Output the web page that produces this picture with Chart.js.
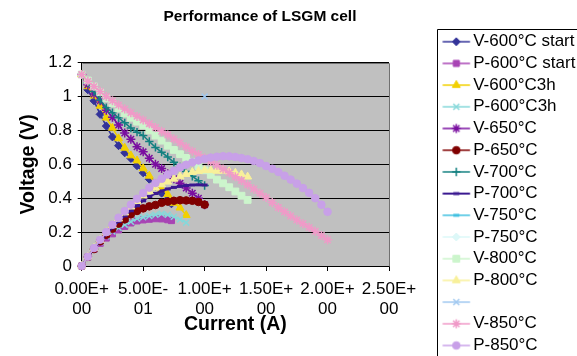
<!DOCTYPE html>
<html>
<head>
    <title>Performance of LSGM cell</title>
    <script src="https://cdn.jsdelivr.net/npm/chart.js"></script>
    <style>
        html, body {
            margin: 0;
            padding: 0;
            background: #ffffff;
            overflow: hidden;
        }
        .frame {
            position: relative;
            width: 577px;
            height: 380px;
        }
    </style>
</head>
<body>
    <div class="frame">
        <canvas id="lsgmChart"></canvas>
    </div>

    <script>
        // current (A), voltage (V) and power (W), one set per run
        const cur600start = [0, 0.05, 0.10, 0.15, 0.20, 0.25, 0.30, 0.35, 0.40, 0.45, 0.50, 0.55, 0.60, 0.65, 0.70, 0.73];
        const volt600start = [1.13, 1.04, 0.975, 0.895, 0.826, 0.762, 0.71, 0.668, 0.635, 0.592, 0.55, 0.512, 0.47, 0.43, 0.392, 0.367];
        const pow600start = [0, 0.052, 0.098, 0.134, 0.165, 0.19, 0.213, 0.234, 0.254, 0.266, 0.272, 0.276, 0.279, 0.278, 0.273, 0.268];

        const cur600h = [0, 0.05, 0.10, 0.15, 0.20, 0.25, 0.30, 0.35, 0.40, 0.45, 0.50, 0.55, 0.60, 0.65, 0.70, 0.75, 0.80, 0.85];
        const volt600h = [1.13, 1.06, 1.005, 0.945, 0.875, 0.815, 0.753, 0.697, 0.652, 0.622, 0.576, 0.532, 0.485, 0.455, 0.423, 0.372, 0.344, 0.30];
        const pow600h = [0, 0.053, 0.10, 0.142, 0.175, 0.204, 0.226, 0.244, 0.261, 0.28, 0.288, 0.295, 0.303, 0.308, 0.302, 0.29, 0.275, 0.256];

        const cur650 = [0, 0.05, 0.10, 0.15, 0.20, 0.25, 0.30, 0.35, 0.40, 0.45, 0.50, 0.55, 0.60, 0.65, 0.70, 0.75, 0.80, 0.85, 0.90, 0.95, 1.00];
        const volt650 = [1.13, 1.07, 1.015, 0.975, 0.92, 0.878, 0.832, 0.785, 0.748, 0.704, 0.674, 0.636, 0.60, 0.575, 0.545, 0.515, 0.488, 0.46, 0.43, 0.40, 0.362];
        const pow650 = [0, 0.054, 0.10, 0.146, 0.184, 0.22, 0.25, 0.275, 0.305, 0.325, 0.34, 0.352, 0.36, 0.373, 0.38, 0.385, 0.388, 0.387, 0.385, 0.378, 0.362];

        const cur700 = [0, 0.05, 0.10, 0.15, 0.20, 0.25, 0.30, 0.35, 0.40, 0.45, 0.50, 0.55, 0.60, 0.65, 0.70, 0.75, 0.80, 0.85, 0.90, 0.95, 1.00];
        const volt700 = [1.13, 1.08, 1.03, 0.98, 0.935, 0.905, 0.875, 0.845, 0.815, 0.79, 0.77, 0.735, 0.70, 0.672, 0.643, 0.612, 0.585, 0.558, 0.53, 0.503, 0.475];
        const pow700 = [0, 0.054, 0.103, 0.147, 0.187, 0.226, 0.263, 0.296, 0.326, 0.356, 0.385, 0.41, 0.428, 0.443, 0.455, 0.464, 0.47, 0.475, 0.478, 0.479, 0.478];

        // 750 °C is listed in the legend but has no visible points
        const cur750 = [];
        const volt750 = [];
        const pow750 = [];

        const cur800 = [0, 0.05, 0.10, 0.15, 0.20, 0.25, 0.30, 0.35, 0.40, 0.45, 0.50, 0.55, 0.60, 0.65, 0.70, 0.75, 0.80, 0.85, 0.90, 0.95, 1.00, 1.05, 1.10, 1.15, 1.20, 1.25, 1.30, 1.35];
        const volt800 = [1.13, 1.095, 1.06, 1.025, 0.99, 0.96, 0.93, 0.90, 0.875, 0.852, 0.83, 0.80, 0.77, 0.74, 0.71, 0.685, 0.66, 0.638, 0.615, 0.59, 0.565, 0.538, 0.51, 0.488, 0.465, 0.44, 0.415, 0.39];
        const pow800 = [0, 0.055, 0.106, 0.154, 0.198, 0.24, 0.279, 0.315, 0.35, 0.383, 0.415, 0.44, 0.462, 0.481, 0.497, 0.514, 0.528, 0.542, 0.554, 0.56, 0.565, 0.565, 0.561, 0.561, 0.558, 0.55, 0.54, 0.527];

        // the unnamed series: a single point
        const curExtra = [1.0];
        const valExtra = [1.0];

        const cur850 = [0, 0.05, 0.10, 0.15, 0.20, 0.25, 0.30, 0.35, 0.40, 0.45, 0.50, 0.55, 0.60, 0.65, 0.70, 0.75, 0.80, 0.85, 0.90, 0.95, 1.00,
                        1.05, 1.10, 1.15, 1.20, 1.25, 1.30, 1.35, 1.40, 1.45, 1.50, 1.55, 1.60, 1.65, 1.70, 1.75, 1.80, 1.85, 1.90, 1.95, 2.00];
        const volt850 = [1.13, 1.09, 1.06, 1.03, 1.0, 0.975, 0.95, 0.927, 0.905, 0.883, 0.862, 0.84, 0.818, 0.795, 0.773, 0.75, 0.728, 0.703, 0.678, 0.658, 0.638,
                         0.617, 0.595, 0.572, 0.55, 0.527, 0.505, 0.48, 0.455, 0.43, 0.405, 0.375, 0.345, 0.32, 0.295, 0.272, 0.25, 0.228, 0.205, 0.18, 0.155];
        const pow850 = [0, 0.055, 0.106, 0.155, 0.2, 0.244, 0.285, 0.324, 0.362, 0.397, 0.43, 0.462, 0.49, 0.515, 0.54, 0.562, 0.582, 0.598, 0.612, 0.623, 0.632,
                        0.64, 0.645, 0.648, 0.647, 0.643, 0.637, 0.63, 0.62, 0.607, 0.59, 0.574, 0.555, 0.533, 0.51, 0.486, 0.46, 0.432, 0.40, 0.362, 0.32];

        const seriesNames = [
            'V-600°C start', 'P-600°C start', 'V-600°C3h', 'P-600°C3h',
            'V-650°C', 'P-650°C', 'V-700°C', 'P-700°C',
            'V-750°C', 'P-750°C', 'V-800°C', 'P-800°C',
            '', 'V-850°C', 'P-850°C'
        ];

        const seriesPoints = [
            [cur600start, volt600start], [cur600start, pow600start],
            [cur600h, volt600h], [cur600h, pow600h],
            [cur650, volt650], [cur650, pow650],
            [cur700, volt700], [cur700, pow700],
            [cur750, volt750], [cur750, pow750],
            [cur800, volt800], [cur800, pow800],
            [curExtra, valExtra],
            [cur850, volt850], [cur850, pow850]
        ];

        const xTickLabels = [['0.00E+', '00'], ['5.00E-', '01'], ['1.00E+', '00'], ['1.50E+', '00'], ['2.00E+', '00'], ['2.50E+', '00']];
        const yTickLabels = ['0', '0.2', '0.4', '0.6', '0.8', '1', '1.2'];

        // excel-like marker look for each series
        const seriesStyles = [
            { color: '#333399', marker: 'rectRot',  size: 4,   stroke: 1,   line: 1.5 },
            { color: '#A844B4', marker: 'rect',     size: 4.3, stroke: 1,   line: 1.5 },
            { color: '#F2D000', marker: 'triangle', size: 4.6, stroke: 1,   line: 1.5 },
            { color: '#86D8DA', marker: 'crossRot', size: 4.2, stroke: 1.5, line: 1.5 },
            { color: '#7A0FA0', marker: 'star',     size: 4.5, stroke: 1.5, line: 1.5 },
            { color: '#800000', marker: 'circle',   size: 3.8, stroke: 1,   line: 1.5 },
            { color: '#138080', marker: 'cross',    size: 4.2, stroke: 1.5, line: 1.5 },
            { color: '#3A1890', marker: 'line',     size: 3,   stroke: 3,   line: 2 },
            { color: '#40C0E0', marker: 'line',     size: 3,   stroke: 3,   line: 1.5 },
            { color: '#DDF8F8', marker: 'rectRot',  size: 4,   stroke: 1,   line: 1.5 },
            { color: '#CCF5CC', marker: 'rect',     size: 4.8, stroke: 1,   line: 1.5 },
            { color: '#F8F09A', marker: 'triangle', size: 4.6, stroke: 1,   line: 1.5 },
            { color: '#A0C8F0', marker: 'crossRot', size: 4.2, stroke: 1.5, line: 1.5 },
            { color: '#F09AC8', marker: 'star',     size: 4.5, stroke: 1.5, line: 1.5 },
            { color: '#C8A0E8', marker: 'circle',   size: 3.8, stroke: 1,   line: 1.5 }
        ];

        Chart.defaults.font.family = '"Liberation Sans", Arial, Helvetica, sans-serif';
        Chart.defaults.color = '#000000';

        const datasets = seriesNames.map((name, i) => {
            const xs = seriesPoints[i][0];
            const ys = seriesPoints[i][1];
            const st = seriesStyles[i];
            return {
                label: name,
                data: xs.map((x, k) => ({ x: x, y: ys[k] })),
                showLine: true,
                borderColor: st.color,
                backgroundColor: st.color,
                borderWidth: st.line,
                pointStyle: st.marker,
                pointRadius: st.size,
                pointHoverRadius: st.size,
                pointBorderWidth: st.stroke,
                pointBackgroundColor: st.color,
                pointBorderColor: st.color,
                tension: 0,
                clip: false,
                // later series sit on top, like in the original
                order: seriesNames.length - i,
            };
        });

        // small line + marker picture for each legend entry
        function makeLegendIcon(st) {
            const c = document.createElement('canvas');
            c.width = 36;
            c.height = 14;
            const g = c.getContext('2d');
            g.strokeStyle = st.color;
            g.fillStyle = st.color;
            g.lineWidth = st.line;
            g.beginPath();
            g.moveTo(7.4, 7);
            g.lineTo(34.8, 7);
            g.stroke();
            g.lineWidth = st.stroke;
            Chart.helpers.drawPoint(g, { pointStyle: st.marker, rotation: 0, radius: st.size, borderWidth: st.stroke }, 21.1, 7);
            return c;
        }
        const legendIcons = seriesStyles.map(makeLegendIcon);

        const plotFrame = {
            id: 'plotFrame',
            beforeDraw(chart) {
                const { ctx, chartArea: a } = chart;
                ctx.save();
                ctx.fillStyle = '#C0C0C0';
                ctx.fillRect(a.left, a.top, a.right - a.left, a.bottom - a.top);
                ctx.restore();
            },
            afterDraw(chart) {
                const { ctx, chartArea: a, legend } = chart;
                const l = Math.round(a.left) + 0.5;
                const t = Math.round(a.top) + 0.5;
                const r = Math.round(a.right) + 0.5;
                const b = Math.round(a.bottom) + 0.5;
                ctx.save();
                ctx.lineWidth = 1;
                ctx.strokeStyle = '#707070';
                ctx.beginPath();
                ctx.moveTo(l, t);
                ctx.lineTo(r, t);
                ctx.lineTo(r, b);
                ctx.stroke();
                // legend frame (runs off the right and bottom edges)
                const lx = Math.round(legend.left) + 0.5;
                const ly = Math.round(legend.top + 29) + 0.5;
                ctx.strokeStyle = '#000000';
                ctx.beginPath();
                ctx.moveTo(lx, chart.height + 5);
                ctx.lineTo(lx, ly);
                ctx.lineTo(chart.width + 5, ly);
                ctx.stroke();
                ctx.restore();
            }
        };

        const ctx = document.getElementById('lsgmChart').getContext('2d');

        new Chart(ctx, {
            type: 'scatter',
            data: { datasets: datasets },
            plugins: [plotFrame],
            options: {
                responsive: true,
                maintainAspectRatio: false,
                animation: false,
                devicePixelRatio: 1,
                layout: {
                    autoPadding: false,
                    // negative left padding moves the title centre left, as in the original
                    padding: { left: -57, top: 0, bottom: 0, right: 0 },
                },
                plugins: {
                    tooltip: { enabled: false },
                    title: {
                        display: true,
                        text: 'Performance of LSGM cell',
                        fullSize: true,
                        font: { size: 15.5, weight: 'bold' },
                        padding: { top: 7.7, bottom: 36.4 },
                    },
                    legend: {
                        display: true,
                        position: 'right',
                        align: 'start',
                        maxWidth: 140,
                        title: {
                            display: true,
                            text: ' ',
                            font: { size: 10 },
                            padding: { top: 0, bottom: 16.5 },
                        },
                        labels: {
                            usePointStyle: true,
                            pointStyleWidth: 23,
                            padding: 4.7,
                            font: { size: 17 },
                            color: '#000000',
                            generateLabels: function (chart) {
                                const items = Chart.defaults.plugins.legend.labels.generateLabels(chart);
                                items.sort((a, b) => a.datasetIndex - b.datasetIndex);
                                items.forEach((item) => {
                                    item.pointStyle = legendIcons[item.datasetIndex];
                                });
                                return items;
                            },
                        },
                    },
                },
                scales: {
                    x: {
                        type: 'linear',
                        position: 'bottom',
                        min: 0,
                        max: 2.5,
                        afterFit: (scale) => { scale.height = 114; },
                        grid: {
                            drawOnChartArea: false,
                            drawTicks: true,
                            tickLength: 5,
                            color: '#000000',
                        },
                        border: { display: true, color: '#000000', width: 1 },
                        ticks: {
                            stepSize: 0.5,
                            autoSkip: false,
                            maxRotation: 0,
                            minRotation: 0,
                            padding: 8,
                            font: { size: 17, lineHeight: 1.18 },
                            callback: (value, index) => xTickLabels[index],
                        },
                        title: {
                            display: true,
                            text: 'Current (A)',
                            font: { size: 19.5, weight: 'bold' },
                            padding: { top: 0, bottom: 43.6 },
                        },
                    },
                    y: {
                        type: 'linear',
                        position: 'left',
                        min: 0,
                        max: 1.2,
                        afterFit: (scale) => { scale.width = 138.7; },
                        grid: {
                            drawOnChartArea: true,
                            drawTicks: true,
                            tickLength: 4,
                            color: '#000000',
                            lineWidth: 1,
                        },
                        border: { display: true, color: '#000000', width: 1 },
                        ticks: {
                            stepSize: 0.2,
                            padding: 5.7,
                            font: { size: 17 },
                            callback: (value, index) => yTickLabels[index],
                        },
                        title: {
                            display: true,
                            text: 'Voltage (V)',
                            font: { size: 19.5, weight: 'bold' },
                            padding: { top: 74, bottom: 0 },
                        },
                    },
                    // empty spacer between plot and legend
                    gap: {
                        type: 'linear',
                        position: 'right',
                        display: true,
                        afterFit: (scale) => { scale.width = 48; },
                        grid: { display: false },
                        border: { display: false },
                        ticks: { display: false },
                    },
                },
            },
        });
    </script>
</body>
</html>
